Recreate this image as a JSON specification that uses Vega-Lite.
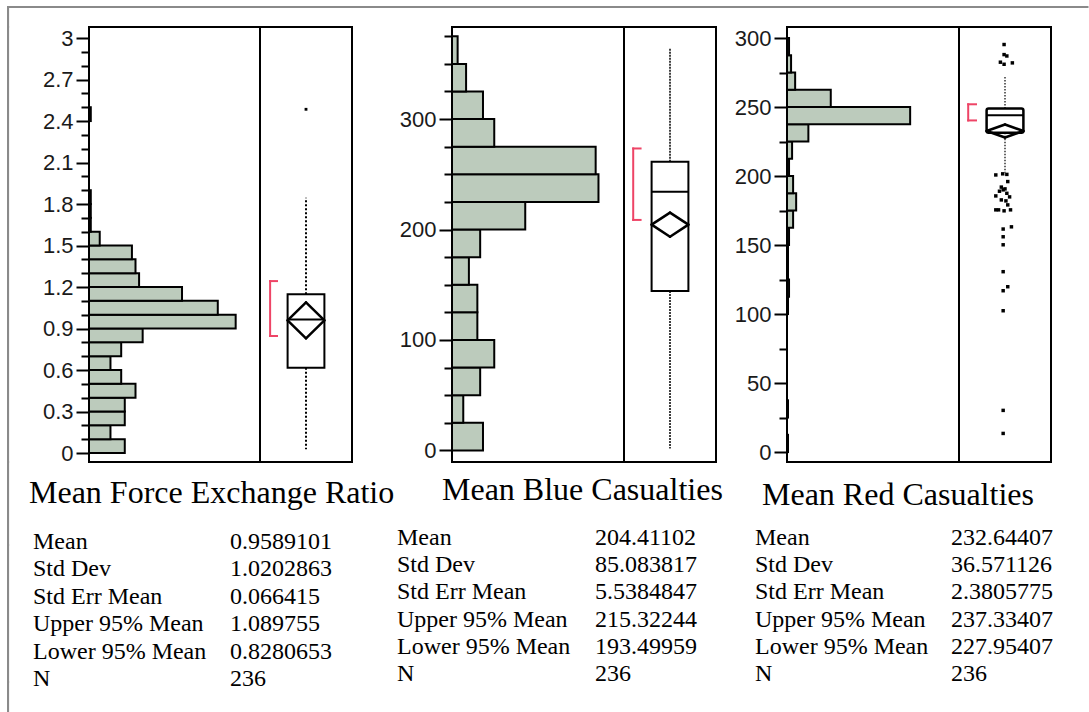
{
  "$schema": "https://vega.github.io/schema/vega-lite/v6.json",
  "padding": {"left": 7, "top": 6, "right": 0, "bottom": 0},
  "background": "white",
  "config": {
    "view": {"stroke": "black", "strokeWidth": 2},
    "axis": {"labelFont": "Liberation Sans", "labelFontSize": 22, "labelColor": "#1a1a1a", "tickColor": "black", "tickWidth": 2, "domain": false, "grid": false, "labelPadding": 3, "labelOverlap": false, "title": null},
    "title": {"font": "Liberation Serif", "fontSize": 32, "fontWeight": "normal", "color": "black"}
  },
  "columns": 11,
  "spacing": 0,
  "align": "each",
  "bounds": "flush",
  "concat": [
    {"width": 0.1, "height": 0.1, "data": {"values": []}, "mark": "point", "view": {"stroke": "#8a8a8a", "strokeWidth": 2}},
    {"width": 80, "height": 0.1, "data": {"values": []}, "mark": "point", "view": {"stroke": "#8a8a8a", "strokeWidth": 2}},
    {"width": 171, "height": 0.1, "data": {"values": []}, "mark": "point", "view": {"stroke": "#8a8a8a", "strokeWidth": 2}},
    {"width": 92, "height": 0.1, "data": {"values": []}, "mark": "point", "view": {"stroke": "#8a8a8a", "strokeWidth": 2}},
    {"width": 100, "height": 0.1, "data": {"values": []}, "mark": "point", "view": {"stroke": "#8a8a8a", "strokeWidth": 2}},
    {"width": 172, "height": 0.1, "data": {"values": []}, "mark": "point", "view": {"stroke": "#8a8a8a", "strokeWidth": 2}},
    {"width": 92, "height": 0.1, "data": {"values": []}, "mark": "point", "view": {"stroke": "#8a8a8a", "strokeWidth": 2}},
    {"width": 71, "height": 0.1, "data": {"values": []}, "mark": "point", "view": {"stroke": "#8a8a8a", "strokeWidth": 2}},
    {"width": 172, "height": 0.1, "data": {"values": []}, "mark": "point", "view": {"stroke": "#8a8a8a", "strokeWidth": 2}},
    {"width": 92, "height": 0.1, "data": {"values": []}, "mark": "point", "view": {"stroke": "#8a8a8a", "strokeWidth": 2}},
    {"width": 36.5, "height": 0.1, "data": {"values": []}, "mark": "point", "view": {"stroke": "#8a8a8a", "strokeWidth": 2}},

    {"width": 0.1, "height": 18.9, "data": {"values": []}, "mark": "point", "view": {"stroke": "#8a8a8a", "strokeWidth": 2}},
    {"width": 0.1, "height": 0.1, "data": {"values": []}, "mark": "point", "view": {"stroke": null}},
    {"width": 0.1, "height": 0.1, "data": {"values": []}, "mark": "point", "view": {"stroke": null}},
    {"width": 0.1, "height": 0.1, "data": {"values": []}, "mark": "point", "view": {"stroke": null}},
    {"width": 0.1, "height": 0.1, "data": {"values": []}, "mark": "point", "view": {"stroke": null}},
    {"width": 0.1, "height": 0.1, "data": {"values": []}, "mark": "point", "view": {"stroke": null}},
    {"width": 0.1, "height": 0.1, "data": {"values": []}, "mark": "point", "view": {"stroke": null}},
    {"width": 0.1, "height": 0.1, "data": {"values": []}, "mark": "point", "view": {"stroke": null}},
    {"width": 0.1, "height": 0.1, "data": {"values": []}, "mark": "point", "view": {"stroke": null}},
    {"width": 0.1, "height": 0.1, "data": {"values": []}, "mark": "point", "view": {"stroke": null}},
    {"width": 0.1, "height": 0.1, "data": {"values": []}, "mark": "point", "view": {"stroke": null}},

    {"width": 0.1, "height": 435, "data": {"values": []}, "mark": "point", "view": {"stroke": "#8a8a8a", "strokeWidth": 2}},
    {"width": 0.1, "height": 0.1, "data": {"values": []}, "mark": "point", "view": {"stroke": null}},
    {
      "width": 171, "height": 435,
      "data": {"values": [
        {"lo": 0.0, "hi": 0.1, "n": 10}, {"lo": 0.1, "hi": 0.2, "n": 6}, {"lo": 0.2, "hi": 0.3, "n": 10},
        {"lo": 0.3, "hi": 0.4, "n": 10}, {"lo": 0.4, "hi": 0.5, "n": 13}, {"lo": 0.5, "hi": 0.6, "n": 9},
        {"lo": 0.6, "hi": 0.7, "n": 6}, {"lo": 0.7, "hi": 0.8, "n": 9}, {"lo": 0.8, "hi": 0.9, "n": 15},
        {"lo": 0.9, "hi": 1.0, "n": 41}, {"lo": 1.0, "hi": 1.1, "n": 36}, {"lo": 1.1, "hi": 1.2, "n": 26},
        {"lo": 1.2, "hi": 1.3, "n": 14}, {"lo": 1.3, "hi": 1.4, "n": 13}, {"lo": 1.4, "hi": 1.5, "n": 12},
        {"lo": 1.5, "hi": 1.6, "n": 3}, {"lo": 1.6, "hi": 1.7, "n": 0.5}, {"lo": 1.7, "hi": 1.8, "n": 0.5},
        {"lo": 1.8, "hi": 1.9, "n": 0.5}, {"lo": 2.4, "hi": 2.5, "n": 0.5}
      ]},
      "mark": {"type": "rect", "fill": "#bccbbc", "stroke": "black", "strokeWidth": 2},
      "encoding": {
        "y": {"field": "lo", "type": "quantitative", "scale": {"domain": [-0.065, 3.08], "nice": false, "zero": false},
              "axis": {"values": [0, 0.1, 0.2, 0.3, 0.4, 0.5, 0.6, 0.7, 0.8, 0.9, 1.0, 1.1, 1.2, 1.3, 1.4, 1.5, 1.6, 1.7, 1.8, 1.9, 2.0, 2.1, 2.2, 2.3, 2.4, 2.5, 2.6, 2.7, 2.8, 2.9, 3.0],
                       "format": "~g",
                       "labelExpr": "round(datum.value*10) % 3 === 0 ? datum.label : ''",
                       "tickSize": {"condition": {"test": "round(datum.value*10) % 3 === 0", "value": 13}, "value": 8}}},
        "y2": {"field": "hi"},
        "x": {"field": "n", "type": "quantitative", "scale": {"domain": [0, 47.8], "nice": false, "zero": false}, "axis": null},
        "x2": {"datum": 0}
      }
    },
    {
      "width": 92, "height": 435,
      "data": {"values": [{"q1": 0.617, "q3": 1.147, "med": 0.966, "wlo": 0.027, "whi": 1.846, "mean": 0.9589101, "lo95": 0.8280653, "hi95": 1.089755, "shlo": 0.846, "shhi": 1.243}]},
      "layer": [
        {"mark": {"type": "rule", "strokeDash": [2, 2], "strokeWidth": 2, "color": "black"},
         "encoding": {"x": {"datum": 0.5, "type": "quantitative", "scale": {"domain": [0, 1], "nice": false, "zero": false}, "axis": null},
                      "y": {"field": "q3", "type": "quantitative", "scale": {"domain": [-0.065, 3.08], "nice": false, "zero": false}, "axis": null},
                      "y2": {"field": "whi"}}},
        {"mark": {"type": "rule", "strokeDash": [2, 2], "strokeWidth": 2, "color": "black"},
         "encoding": {"x": {"datum": 0.5, "type": "quantitative", "axis": null}, "y": {"field": "q1", "type": "quantitative", "axis": null}, "y2": {"field": "wlo"}}},
        {"mark": {"type": "rect", "fill": "white", "stroke": "black", "strokeWidth": 2},
         "encoding": {"x": {"datum": 0.3, "type": "quantitative", "axis": null}, "x2": {"datum": 0.7}, "y": {"field": "q1", "type": "quantitative", "axis": null}, "y2": {"field": "q3"}}},
        {"mark": {"type": "rule", "strokeWidth": 2, "color": "black"},
         "encoding": {"x": {"datum": 0.3, "type": "quantitative", "axis": null}, "x2": {"datum": 0.7}, "y": {"field": "med", "type": "quantitative", "axis": null}}},
        {"mark": {"type": "rule", "strokeWidth": 2.5, "strokeCap": "round", "color": "black"},
         "encoding": {"x": {"datum": 0.3, "type": "quantitative", "axis": null}, "x2": {"datum": 0.5}, "y": {"field": "mean", "type": "quantitative", "axis": null}, "y2": {"field": "hi95"}}},
        {"mark": {"type": "rule", "strokeWidth": 2.5, "strokeCap": "round", "color": "black"},
         "encoding": {"x": {"datum": 0.5, "type": "quantitative", "axis": null}, "x2": {"datum": 0.7}, "y": {"field": "hi95", "type": "quantitative", "axis": null}, "y2": {"field": "mean"}}},
        {"mark": {"type": "rule", "strokeWidth": 2.5, "strokeCap": "round", "color": "black"},
         "encoding": {"x": {"datum": 0.7, "type": "quantitative", "axis": null}, "x2": {"datum": 0.5}, "y": {"field": "mean", "type": "quantitative", "axis": null}, "y2": {"field": "lo95"}}},
        {"mark": {"type": "rule", "strokeWidth": 2.5, "strokeCap": "round", "color": "black"},
         "encoding": {"x": {"datum": 0.5, "type": "quantitative", "axis": null}, "x2": {"datum": 0.3}, "y": {"field": "lo95", "type": "quantitative", "axis": null}, "y2": {"field": "mean"}}},
        {"mark": {"type": "rule", "strokeWidth": 2, "strokeCap": "square", "color": "#ee4466"},
         "encoding": {"x": {"datum": 0.11, "type": "quantitative", "axis": null}, "y": {"field": "shlo", "type": "quantitative", "axis": null}, "y2": {"field": "shhi"}}},
        {"mark": {"type": "rule", "strokeWidth": 2, "strokeCap": "square", "color": "#ee4466"},
         "encoding": {"x": {"datum": 0.11, "type": "quantitative", "axis": null}, "x2": {"datum": 0.185}, "y": {"field": "shhi", "type": "quantitative", "axis": null}}},
        {"mark": {"type": "rule", "strokeWidth": 2, "strokeCap": "square", "color": "#ee4466"},
         "encoding": {"x": {"datum": 0.11, "type": "quantitative", "axis": null}, "x2": {"datum": 0.185}, "y": {"field": "shlo", "type": "quantitative", "axis": null}}},
        {"data": {"values": [{"v": 2.485, "jitter": 0.5}]},
         "mark": {"type": "point", "shape": "square", "filled": true, "size": 8, "color": "black", "opacity": 1},
         "encoding": {"x": {"field": "jitter", "type": "quantitative", "axis": null}, "y": {"field": "v", "type": "quantitative", "axis": null}}}
      ]
    },
    {"width": 0.1, "height": 0.1, "data": {"values": []}, "mark": "point", "view": {"stroke": null}},
    {
      "width": 172, "height": 435,
      "data": {"values": [
        {"lo": 0, "hi": 25, "n": 11}, {"lo": 25, "hi": 50, "n": 4}, {"lo": 50, "hi": 75, "n": 10},
        {"lo": 75, "hi": 100, "n": 15}, {"lo": 100, "hi": 125, "n": 9}, {"lo": 125, "hi": 150, "n": 9},
        {"lo": 150, "hi": 175, "n": 6}, {"lo": 175, "hi": 200, "n": 10}, {"lo": 200, "hi": 225, "n": 26},
        {"lo": 225, "hi": 250, "n": 52}, {"lo": 250, "hi": 275, "n": 51}, {"lo": 275, "hi": 300, "n": 15},
        {"lo": 300, "hi": 325, "n": 11}, {"lo": 325, "hi": 350, "n": 5}, {"lo": 350, "hi": 375, "n": 2}
      ]},
      "mark": {"type": "rect", "fill": "#bccbbc", "stroke": "black", "strokeWidth": 2},
      "encoding": {
        "y": {"field": "lo", "type": "quantitative", "scale": {"domain": [-10.5, 383.4], "nice": false, "zero": false},
              "axis": {"values": [0, 25, 50, 75, 100, 125, 150, 175, 200, 225, 250, 275, 300, 325, 350, 375],
                       "format": "d",
                       "labelExpr": "datum.value % 100 === 0 ? datum.label : ''",
                       "tickSize": {"condition": {"test": "datum.value % 100 === 0", "value": 13}, "value": 8}}},
        "y2": {"field": "hi"},
        "x": {"field": "n", "type": "quantitative", "scale": {"domain": [0, 61.06], "nice": false, "zero": false}, "axis": null},
        "x2": {"datum": 0}
      }
    },
    {
      "width": 92, "height": 435,
      "data": {"values": [{"q1": 144.3, "q3": 261.3, "med": 234.2, "wlo": 1.8, "whi": 363.7, "mean": 204.41102, "lo95": 193.49959, "hi95": 215.32244, "shlo": 208.7, "shhi": 273.4}]},
      "layer": [
        {"mark": {"type": "rule", "strokeDash": [2, 1], "strokeWidth": 1.5, "color": "black"},
         "encoding": {"x": {"datum": 0.5, "type": "quantitative", "scale": {"domain": [0, 1], "nice": false, "zero": false}, "axis": null},
                      "y": {"field": "q3", "type": "quantitative", "scale": {"domain": [-10.5, 383.4], "nice": false, "zero": false}, "axis": null},
                      "y2": {"field": "whi"}}},
        {"mark": {"type": "rule", "strokeDash": [2, 1], "strokeWidth": 1.5, "color": "black"},
         "encoding": {"x": {"datum": 0.5, "type": "quantitative", "axis": null}, "y": {"field": "q1", "type": "quantitative", "axis": null}, "y2": {"field": "wlo"}}},
        {"mark": {"type": "rect", "fill": "white", "stroke": "black", "strokeWidth": 2},
         "encoding": {"x": {"datum": 0.3, "type": "quantitative", "axis": null}, "x2": {"datum": 0.7}, "y": {"field": "q1", "type": "quantitative", "axis": null}, "y2": {"field": "q3"}}},
        {"mark": {"type": "rule", "strokeWidth": 2, "color": "black"},
         "encoding": {"x": {"datum": 0.3, "type": "quantitative", "axis": null}, "x2": {"datum": 0.7}, "y": {"field": "med", "type": "quantitative", "axis": null}}},
        {"mark": {"type": "rule", "strokeWidth": 2.5, "strokeCap": "round", "color": "black"},
         "encoding": {"x": {"datum": 0.3, "type": "quantitative", "axis": null}, "x2": {"datum": 0.5}, "y": {"field": "mean", "type": "quantitative", "axis": null}, "y2": {"field": "hi95"}}},
        {"mark": {"type": "rule", "strokeWidth": 2.5, "strokeCap": "round", "color": "black"},
         "encoding": {"x": {"datum": 0.5, "type": "quantitative", "axis": null}, "x2": {"datum": 0.7}, "y": {"field": "hi95", "type": "quantitative", "axis": null}, "y2": {"field": "mean"}}},
        {"mark": {"type": "rule", "strokeWidth": 2.5, "strokeCap": "round", "color": "black"},
         "encoding": {"x": {"datum": 0.7, "type": "quantitative", "axis": null}, "x2": {"datum": 0.5}, "y": {"field": "mean", "type": "quantitative", "axis": null}, "y2": {"field": "lo95"}}},
        {"mark": {"type": "rule", "strokeWidth": 2.5, "strokeCap": "round", "color": "black"},
         "encoding": {"x": {"datum": 0.5, "type": "quantitative", "axis": null}, "x2": {"datum": 0.3}, "y": {"field": "lo95", "type": "quantitative", "axis": null}, "y2": {"field": "mean"}}},
        {"mark": {"type": "rule", "strokeWidth": 2, "strokeCap": "square", "color": "#ee4466"},
         "encoding": {"x": {"datum": 0.1, "type": "quantitative", "axis": null}, "y": {"field": "shlo", "type": "quantitative", "axis": null}, "y2": {"field": "shhi"}}},
        {"mark": {"type": "rule", "strokeWidth": 2, "strokeCap": "square", "color": "#ee4466"},
         "encoding": {"x": {"datum": 0.1, "type": "quantitative", "axis": null}, "x2": {"datum": 0.18}, "y": {"field": "shhi", "type": "quantitative", "axis": null}}},
        {"mark": {"type": "rule", "strokeWidth": 2, "strokeCap": "square", "color": "#ee4466"},
         "encoding": {"x": {"datum": 0.1, "type": "quantitative", "axis": null}, "x2": {"datum": 0.18}, "y": {"field": "shlo", "type": "quantitative", "axis": null}}}
      ]
    },
    {"width": 0.1, "height": 0.1, "data": {"values": []}, "mark": "point", "view": {"stroke": null}},
    {
      "width": 172, "height": 435,
      "data": {"values": [
        {"lo": 0, "hi": 12.5, "n": 1}, {"lo": 25, "hi": 37.5, "n": 1},
        {"lo": 100, "hi": 112.5, "n": 1}, {"lo": 112.5, "hi": 125, "n": 2}, {"lo": 125, "hi": 137.5, "n": 1},
        {"lo": 137.5, "hi": 150, "n": 1}, {"lo": 150, "hi": 162.5, "n": 2}, {"lo": 162.5, "hi": 175, "n": 6},
        {"lo": 175, "hi": 187.5, "n": 9}, {"lo": 187.5, "hi": 200, "n": 6}, {"lo": 200, "hi": 212.5, "n": 2},
        {"lo": 212.5, "hi": 225, "n": 5}, {"lo": 225, "hi": 237.5, "n": 21}, {"lo": 237.5, "hi": 250, "n": 121},
        {"lo": 250, "hi": 262.5, "n": 43}, {"lo": 262.5, "hi": 275, "n": 8}, {"lo": 275, "hi": 287.5, "n": 4},
        {"lo": 287.5, "hi": 300, "n": 2}
      ]},
      "mark": {"type": "rect", "fill": "#bccbbc", "stroke": "black", "strokeWidth": 2},
      "encoding": {
        "y": {"field": "lo", "type": "quantitative", "scale": {"domain": [-7.2, 308], "nice": false, "zero": false},
              "axis": {"values": [0, 25, 50, 75, 100, 125, 150, 175, 200, 225, 250, 275, 300],
                       "format": "d",
                       "labelExpr": "datum.value % 50 === 0 ? datum.label : ''",
                       "tickSize": {"condition": {"test": "datum.value % 50 === 0", "value": 13}, "value": 8}}},
        "y2": {"field": "hi"},
        "x": {"field": "n", "type": "quantitative", "scale": {"domain": [0, 169], "nice": false, "zero": false}, "axis": null},
        "x2": {"datum": 0}
      }
    },
    {
      "width": 92, "height": 435,
      "data": {"values": [{"q1": 231.3, "q3": 249.0, "med": 244.0, "wlo": 202.4, "whi": 272.3, "mean": 232.64407, "lo95": 227.95407, "hi95": 237.33407, "shlo": 240.3, "shhi": 252.0}]},
      "layer": [
        {"mark": {"type": "rule", "strokeDash": [1.5, 1.5], "strokeWidth": 1.2, "color": "black"},
         "encoding": {"x": {"datum": 0.5, "type": "quantitative", "scale": {"domain": [0, 1], "nice": false, "zero": false}, "axis": null},
                      "y": {"field": "q3", "type": "quantitative", "scale": {"domain": [-7.2, 308], "nice": false, "zero": false}, "axis": null},
                      "y2": {"field": "whi"}}},
        {"mark": {"type": "rule", "strokeDash": [1.5, 1.5], "strokeWidth": 1.2, "color": "black"},
         "encoding": {"x": {"datum": 0.5, "type": "quantitative", "axis": null}, "y": {"field": "q1", "type": "quantitative", "axis": null}, "y2": {"field": "wlo"}}},
        {"mark": {"type": "rect", "fill": "white", "stroke": "black", "strokeWidth": 2.5, "cornerRadius": 2},
         "encoding": {"x": {"datum": 0.3, "type": "quantitative", "axis": null}, "x2": {"datum": 0.7}, "y": {"field": "q1", "type": "quantitative", "axis": null}, "y2": {"field": "q3"}}},
        {"mark": {"type": "rule", "strokeWidth": 2, "color": "black"},
         "encoding": {"x": {"datum": 0.3, "type": "quantitative", "axis": null}, "x2": {"datum": 0.7}, "y": {"field": "med", "type": "quantitative", "axis": null}}},
        {"mark": {"type": "rule", "strokeWidth": 2.5, "strokeCap": "round", "color": "black"},
         "encoding": {"x": {"datum": 0.3, "type": "quantitative", "axis": null}, "x2": {"datum": 0.5}, "y": {"field": "mean", "type": "quantitative", "axis": null}, "y2": {"field": "hi95"}}},
        {"mark": {"type": "rule", "strokeWidth": 2.5, "strokeCap": "round", "color": "black"},
         "encoding": {"x": {"datum": 0.5, "type": "quantitative", "axis": null}, "x2": {"datum": 0.7}, "y": {"field": "hi95", "type": "quantitative", "axis": null}, "y2": {"field": "mean"}}},
        {"mark": {"type": "rule", "strokeWidth": 2.5, "strokeCap": "round", "color": "black"},
         "encoding": {"x": {"datum": 0.7, "type": "quantitative", "axis": null}, "x2": {"datum": 0.5}, "y": {"field": "mean", "type": "quantitative", "axis": null}, "y2": {"field": "lo95"}}},
        {"mark": {"type": "rule", "strokeWidth": 2.5, "strokeCap": "round", "color": "black"},
         "encoding": {"x": {"datum": 0.5, "type": "quantitative", "axis": null}, "x2": {"datum": 0.3}, "y": {"field": "lo95", "type": "quantitative", "axis": null}, "y2": {"field": "mean"}}},
        {"mark": {"type": "rule", "strokeWidth": 2, "strokeCap": "square", "color": "#ee4466"},
         "encoding": {"x": {"datum": 0.1, "type": "quantitative", "axis": null}, "y": {"field": "shlo", "type": "quantitative", "axis": null}, "y2": {"field": "shhi"}}},
        {"mark": {"type": "rule", "strokeWidth": 2, "strokeCap": "square", "color": "#ee4466"},
         "encoding": {"x": {"datum": 0.1, "type": "quantitative", "axis": null}, "x2": {"datum": 0.185}, "y": {"field": "shhi", "type": "quantitative", "axis": null}}},
        {"mark": {"type": "rule", "strokeWidth": 2, "strokeCap": "square", "color": "#ee4466"},
         "encoding": {"x": {"datum": 0.1, "type": "quantitative", "axis": null}, "x2": {"datum": 0.185}, "y": {"field": "shlo", "type": "quantitative", "axis": null}}},
        {"data": {"values": [
          {"v": 295.3, "jitter": 0.49}, {"v": 288.0, "jitter": 0.49}, {"v": 287.0, "jitter": 0.52},
          {"v": 282.5, "jitter": 0.45}, {"v": 281.0, "jitter": 0.49}, {"v": 282.0, "jitter": 0.58},
          {"v": 200.8, "jitter": 0.40}, {"v": 201.6, "jitter": 0.475}, {"v": 201.2, "jitter": 0.52},
          {"v": 196.0, "jitter": 0.53}, {"v": 192.0, "jitter": 0.46}, {"v": 190.7, "jitter": 0.50},
          {"v": 189.0, "jitter": 0.44}, {"v": 187.5, "jitter": 0.52}, {"v": 190.0, "jitter": 0.48},
          {"v": 185.6, "jitter": 0.40}, {"v": 184.9, "jitter": 0.55}, {"v": 182.7, "jitter": 0.46},
          {"v": 182.0, "jitter": 0.51}, {"v": 179.1, "jitter": 0.53}, {"v": 175.5, "jitter": 0.40},
          {"v": 175.5, "jitter": 0.43}, {"v": 174.8, "jitter": 0.49}, {"v": 175.5, "jitter": 0.56},
          {"v": 163.2, "jitter": 0.57}, {"v": 161.6, "jitter": 0.48}, {"v": 156.0, "jitter": 0.48},
          {"v": 150.2, "jitter": 0.48}, {"v": 130.7, "jitter": 0.48}, {"v": 119.8, "jitter": 0.53},
          {"v": 116.9, "jitter": 0.48}, {"v": 102.4, "jitter": 0.48}, {"v": 30.2, "jitter": 0.48},
          {"v": 13.5, "jitter": 0.48}
        ]},
         "mark": {"type": "point", "shape": "square", "filled": true, "size": 12, "color": "black", "opacity": 1},
         "encoding": {"x": {"field": "jitter", "type": "quantitative", "axis": null}, "y": {"field": "v", "type": "quantitative", "axis": null}}}
      ]
    },
    {"width": 0.1, "height": 0.1, "data": {"values": []}, "mark": "point", "view": {"stroke": null}},

    {"width": 0.1, "height": 83, "data": {"values": []}, "mark": "point", "view": {"stroke": "#8a8a8a", "strokeWidth": 2}},
    {"width": 0.1, "height": 0.1, "data": {"values": []}, "mark": "point", "view": {"stroke": null}},
    {"width": 0.1, "height": 0.1, "data": {"values": []}, "mark": "point", "view": {"stroke": null}},
    {"width": 0.1, "height": 0.1, "data": {"values": []}, "mark": "point", "view": {"stroke": null}},
    {"width": 0.1, "height": 0.1, "data": {"values": []}, "mark": "point", "view": {"stroke": null}},
    {"width": 0.1, "height": 0.1, "data": {"values": []}, "mark": "point", "view": {"stroke": null}},
    {"width": 0.1, "height": 0.1, "data": {"values": []}, "mark": "point", "view": {"stroke": null}},
    {"width": 0.1, "height": 0.1, "data": {"values": []}, "mark": "point", "view": {"stroke": null}},
    {"width": 0.1, "height": 0.1, "data": {"values": []}, "mark": "point", "view": {"stroke": null}},
    {"width": 0.1, "height": 0.1, "data": {"values": []}, "mark": "point", "view": {"stroke": null}},
    {"width": 0.1, "height": 0.1, "data": {"values": []}, "mark": "point", "view": {"stroke": null}},

    {"width": 0.1, "height": 137, "data": {"values": []}, "mark": "point", "view": {"stroke": "#8a8a8a", "strokeWidth": 2}},
    {"width": 0.1, "height": 0.1, "data": {"values": []}, "mark": "point", "view": {"stroke": null}},
    {
      "width": 143, "height": 137,
      "view": {"stroke": null},
      "title": {"text": "Mean Force Exchange Ratio", "anchor": "start", "frame": "group", "dx": -60, "offset": -5, "baseline": "alphabetic", "limit": 700},
      "data": {"values": [
        {"r": 0, "c": "a", "t": "Mean"}, {"r": 0, "c": "b", "t": "0.9589101"},
        {"r": 1, "c": "a", "t": "Std Dev"}, {"r": 1, "c": "b", "t": "1.0202863"},
        {"r": 2, "c": "a", "t": "Std Err Mean"}, {"r": 2, "c": "b", "t": "0.066415"},
        {"r": 3, "c": "a", "t": "Upper 95% Mean"}, {"r": 3, "c": "b", "t": "1.089755"},
        {"r": 4, "c": "a", "t": "Lower 95% Mean"}, {"r": 4, "c": "b", "t": "0.8280653"},
        {"r": 5, "c": "a", "t": "N"}, {"r": 5, "c": "b", "t": "236"}
      ]},
      "encoding": {
        "x": {"field": "c", "type": "nominal", "scale": {"type": "point", "padding": 0}, "axis": null},
        "y": {"field": "r", "type": "ordinal", "scale": {"type": "point", "padding": 0}, "axis": null},
        "text": {"field": "t"}
      },
      "layer": [
        {"transform": [{"filter": "datum.c === 'a'"}], "mark": {"type": "text", "align": "left", "baseline": "alphabetic", "font": "Liberation Serif", "fontSize": 24, "fill": "black", "dx": -56, "dy": 4}},
        {"transform": [{"filter": "datum.c === 'b'"}], "mark": {"type": "text", "align": "left", "baseline": "alphabetic", "font": "Liberation Serif", "fontSize": 24, "fill": "black", "dx": -2, "dy": 4}}
      ]
    },
    {"width": 0.1, "height": 0.1, "data": {"values": []}, "mark": "point", "view": {"stroke": null}},
    {"width": 0.1, "height": 0.1, "data": {"values": []}, "mark": "point", "view": {"stroke": null}},
    {
      "width": 145, "height": 136,
      "view": {"stroke": null},
      "title": {"text": "Mean Blue Casualties", "anchor": "start", "frame": "group", "dx": -10, "offset": -6, "baseline": "alphabetic", "limit": 700},
      "data": {"values": [
        {"r": 0, "c": "a", "t": "Mean"}, {"r": 0, "c": "b", "t": "204.41102"},
        {"r": 1, "c": "a", "t": "Std Dev"}, {"r": 1, "c": "b", "t": "85.083817"},
        {"r": 2, "c": "a", "t": "Std Err Mean"}, {"r": 2, "c": "b", "t": "5.5384847"},
        {"r": 3, "c": "a", "t": "Upper 95% Mean"}, {"r": 3, "c": "b", "t": "215.32244"},
        {"r": 4, "c": "a", "t": "Lower 95% Mean"}, {"r": 4, "c": "b", "t": "193.49959"},
        {"r": 5, "c": "a", "t": "N"}, {"r": 5, "c": "b", "t": "236"}
      ]},
      "encoding": {
        "x": {"field": "c", "type": "nominal", "scale": {"type": "point", "padding": 0}, "axis": null},
        "y": {"field": "r", "type": "ordinal", "scale": {"type": "point", "padding": 0}, "axis": null},
        "text": {"field": "t"}
      },
      "layer": [
        {"transform": [{"filter": "datum.c === 'a'"}], "mark": {"type": "text", "align": "left", "baseline": "alphabetic", "font": "Liberation Serif", "fontSize": 24, "fill": "black", "dx": -55}},
        {"transform": [{"filter": "datum.c === 'b'"}], "mark": {"type": "text", "align": "left", "baseline": "alphabetic", "font": "Liberation Serif", "fontSize": 24, "fill": "black", "dx": -2}}
      ]
    },
    {"width": 0.1, "height": 0.1, "data": {"values": []}, "mark": "point", "view": {"stroke": null}},
    {"width": 0.1, "height": 0.1, "data": {"values": []}, "mark": "point", "view": {"stroke": null}},
    {
      "width": 165, "height": 136,
      "view": {"stroke": null},
      "title": {"text": "Mean Red Casualties", "anchor": "start", "frame": "group", "dx": -25, "offset": -11, "baseline": "alphabetic", "limit": 700},
      "data": {"values": [
        {"r": 0, "c": "a", "t": "Mean"}, {"r": 0, "c": "b", "t": "232.64407"},
        {"r": 1, "c": "a", "t": "Std Dev"}, {"r": 1, "c": "b", "t": "36.571126"},
        {"r": 2, "c": "a", "t": "Std Err Mean"}, {"r": 2, "c": "b", "t": "2.3805775"},
        {"r": 3, "c": "a", "t": "Upper 95% Mean"}, {"r": 3, "c": "b", "t": "237.33407"},
        {"r": 4, "c": "a", "t": "Lower 95% Mean"}, {"r": 4, "c": "b", "t": "227.95407"},
        {"r": 5, "c": "a", "t": "N"}, {"r": 5, "c": "b", "t": "236"}
      ]},
      "encoding": {
        "x": {"field": "c", "type": "nominal", "scale": {"type": "point", "padding": 0}, "axis": null},
        "y": {"field": "r", "type": "ordinal", "scale": {"type": "point", "padding": 0}, "axis": null},
        "text": {"field": "t"}
      },
      "layer": [
        {"transform": [{"filter": "datum.c === 'a'"}], "mark": {"type": "text", "align": "left", "baseline": "alphabetic", "font": "Liberation Serif", "fontSize": 24, "fill": "black", "dx": -32}},
        {"transform": [{"filter": "datum.c === 'b'"}], "mark": {"type": "text", "align": "left", "baseline": "alphabetic", "font": "Liberation Serif", "fontSize": 24, "fill": "black", "dx": -1}}
      ]
    },
    {"width": 0.1, "height": 0.1, "data": {"values": []}, "mark": "point", "view": {"stroke": null}},
    {"width": 0.1, "height": 0.1, "data": {"values": []}, "mark": "point", "view": {"stroke": null}},

    {"width": 0.1, "height": 29, "data": {"values": []}, "mark": "point", "view": {"stroke": "#8a8a8a", "strokeWidth": 2}},
    {"width": 0.1, "height": 0.1, "data": {"values": []}, "mark": "point", "view": {"stroke": null}},
    {"width": 0.1, "height": 0.1, "data": {"values": []}, "mark": "point", "view": {"stroke": null}},
    {"width": 0.1, "height": 0.1, "data": {"values": []}, "mark": "point", "view": {"stroke": null}},
    {"width": 0.1, "height": 0.1, "data": {"values": []}, "mark": "point", "view": {"stroke": null}},
    {"width": 0.1, "height": 0.1, "data": {"values": []}, "mark": "point", "view": {"stroke": null}},
    {"width": 0.1, "height": 0.1, "data": {"values": []}, "mark": "point", "view": {"stroke": null}},
    {"width": 0.1, "height": 0.1, "data": {"values": []}, "mark": "point", "view": {"stroke": null}},
    {"width": 0.1, "height": 0.1, "data": {"values": []}, "mark": "point", "view": {"stroke": null}},
    {"width": 0.1, "height": 0.1, "data": {"values": []}, "mark": "point", "view": {"stroke": null}},
    {"width": 0.1, "height": 0.1, "data": {"values": []}, "mark": "point", "view": {"stroke": null}}
  ]
}
